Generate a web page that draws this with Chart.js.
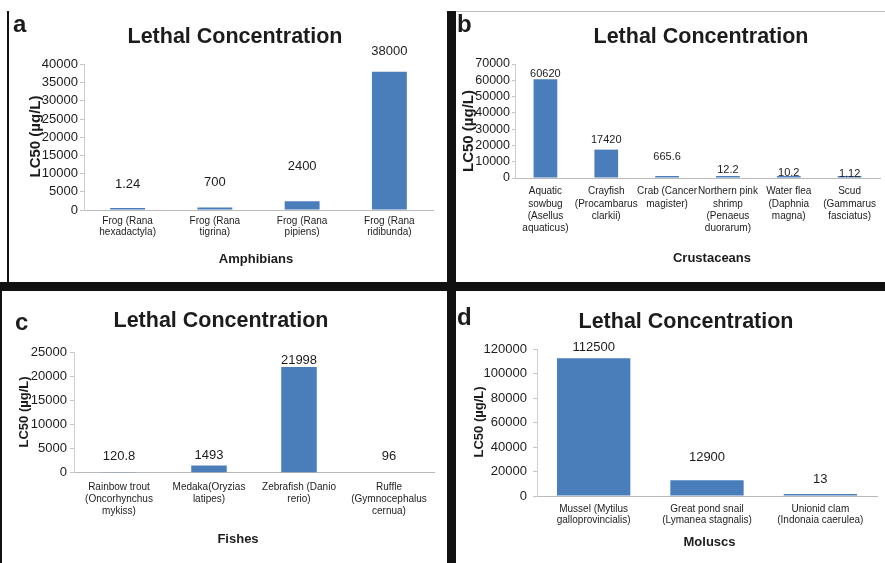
<!DOCTYPE html>
<html>
<head>
<meta charset="utf-8">
<script src="https://cdn.jsdelivr.net/npm/chart.js@4.4.1/dist/chart.umd.min.js"></script>
<style>
  html, body { margin: 0; padding: 0; background: #fff; }
  #wrap { position: relative; width: 885px; height: 563px; background: #fff; overflow: hidden; }
  #wrap canvas { position: absolute; left: 0; top: 0; }
  .bar { position: absolute; background: #111; }
</style>
</head>
<body>
<div id="wrap">
  <div class="bar" style="left:0;top:282px;width:885px;height:9px;"></div>
  <div class="bar" style="left:447px;top:11px;width:9px;height:552px;"></div>
  <div class="bar" style="left:7px;top:11px;width:2px;height:272px;"></div>
  <div class="bar" style="left:0;top:291px;width:2px;height:272px;"></div>
  <div class="bar" style="left:456px;top:11px;width:429px;height:1px;background:#bdbdbd;"></div>
  <canvas id="ca" width="885" height="563"></canvas>
  <canvas id="cb" width="885" height="563"></canvas>
  <canvas id="cc" width="885" height="563"></canvas>
  <canvas id="cd" width="885" height="563"></canvas>
</div>
<script>
// ---------- DATA ----------
const chartTitle = "Lethal Concentration";
const yAxisTitle = "LC50 (\u00b5g/L)";

const categoriesA = [["Frog (Rana", "hexadactyla)"], ["Frog (Rana", "tigrina)"], ["Frog (Rana", "pipiens)"], ["Frog (Rana", "ridibunda)"]];
const valuesA = [1.24, 700, 2400, 38000];
const ticksA = [0, 5000, 10000, 15000, 20000, 25000, 30000, 35000, 40000];

const categoriesB = [["Aquatic", "sowbug", "(Asellus", "aquaticus)"], ["Crayfish", "(Procambarus", "clarkii)"], ["Crab (Cancer", "magister)"], ["Northern pink", "shrimp", "(Penaeus", "duorarum)"], ["Water flea", "(Daphnia", "magna)"], ["Scud", "(Gammarus", "fasciatus)"]];
const valuesB = [60620, 17420, 665.6, 12.2, 10.2, 1.12];
const ticksB = [0, 10000, 20000, 30000, 40000, 50000, 60000, 70000];

const categoriesC = [["Rainbow trout", "(Oncorhynchus", "mykiss)"], ["Medaka(Oryzias", "latipes)"], ["Zebrafish (Danio", "rerio)"], ["Ruffle", "(Gymnocephalus", "cernua)"]];
const valuesC = [120.8, 1493, 21998, 96];
const ticksC = [0, 5000, 10000, 15000, 20000, 25000];

const categoriesD = [["Mussel (Mytilus", "galloprovincialis)"], ["Great pond snail", "(Lymanea stagnalis)"], ["Unionid clam", "(Indonaia caerulea)"]];
const valuesD = [112500, 12900, 13];
const ticksD = [0, 20000, 40000, 60000, 80000, 100000, 120000];

// ---------- STYLE / LAYOUT ----------
const FONT = '"Liberation Sans", Arial, Helvetica, sans-serif';
const BLUE = '#4a7ebb';
const INK = '#1c1c1c';
const W = 885, H = 563;

const panels = [
  { id: 'ca', cats: categoriesA, vals: valuesA, ticks: ticksA, letter: 'a', xTitle: 'Amphibians',
    area: { l: 84, r: 433, t: 64.5, b: 210 }, barPct: 0.40, minBar: 2,
    yFont: 13, yTl: 4, yPad: 2, xFont: 10, xLH: 11.7, xPad: 5, labelFont: 13,
    lift: [26, 25, 35, 20],
    pLetter: { x: 13, y: 32 }, pTitle: { x: 235, y: 43 }, pYTitle: { x: 36, y: 136.5, size: 15 }, pXTitle: { x: 256, y: 263, size: 13 } },
  { id: 'cb', cats: categoriesB, vals: valuesB, ticks: ticksB, letter: 'b', xTitle: 'Crustaceans',
    area: { l: 515, r: 880, t: 64, b: 178 }, barPct: 0.39, minBar: 2,
    yFont: 12.5, yTl: 3, yPad: 2, xFont: 10, xLH: 12.2, xPad: 7.6, labelFont: 11,
    lift: [5.3, 9.6, 19.6, 8, 5.3, 4],
    pLetter: { x: 457, y: 32 }, pTitle: { x: 701, y: 43 }, pYTitle: { x: 469, y: 131, size: 15 }, pXTitle: { x: 712, y: 262, size: 13 } },
  { id: 'cc', cats: categoriesC, vals: valuesC, ticks: ticksC, letter: 'c', xTitle: 'Fishes',
    area: { l: 74, r: 434, t: 352.5, b: 472.7 }, barPct: 0.395, minBar: 0,
    yFont: 13, yTl: 4, yPad: 3, xFont: 10, xLH: 12.2, xPad: 8, labelFont: 13,
    lift: [15.5, 10, 7, 15.5],
    pLetter: { x: 15, y: 330 }, pTitle: { x: 221, y: 327 }, pYTitle: { x: 24, y: 412, size: 13 }, pXTitle: { x: 238, y: 543, size: 13 } },
  { id: 'cd', cats: categoriesD, vals: valuesD, ticks: ticksD, letter: 'd', xTitle: 'Moluscs',
    area: { l: 537, r: 877, t: 349, b: 496 }, barPct: 0.647, minBar: 2,
    yFont: 13, yTl: 4, yPad: 6, xFont: 10, xLH: 11.4, xPad: 7.6, labelFont: 13,
    lift: [10.7, 22.7, 17],
    pLetter: { x: 457, y: 325 }, pTitle: { x: 686, y: 328 }, pYTitle: { x: 479, y: 422, size: 13 }, pXTitle: { x: 709.5, y: 546, size: 13 } }
];

function makeDecor(p) {
  return {
    id: 'decor_' + p.id,
    afterDraw(chart) {
      const ctx = chart.ctx;
      ctx.save();
      ctx.fillStyle = INK;
      // panel letter
      ctx.font = 'bold 24px ' + FONT;
      ctx.textAlign = 'left';
      ctx.textBaseline = 'alphabetic';
      ctx.fillText(p.letter, p.pLetter.x, p.pLetter.y);
      // chart title
      ctx.font = 'bold 21.5px ' + FONT;
      ctx.textAlign = 'center';
      ctx.fillText(chartTitle, p.pTitle.x, p.pTitle.y);
      // x axis title
      ctx.font = 'bold ' + p.pXTitle.size + 'px ' + FONT;
      ctx.fillText(p.xTitle, p.pXTitle.x, p.pXTitle.y);
      // data labels
      const meta = chart.getDatasetMeta(0);
      const ys = chart.scales.y;
      ctx.font = p.labelFont + 'px ' + FONT;
      ctx.textBaseline = 'middle';
      p.vals.forEach((v, i) => {
        const el = meta.data[i];
        ctx.fillText(String(v), el.x, ys.getPixelForValue(v) - p.lift[i]);
      });
      // y axis title
      ctx.translate(p.pYTitle.x, p.pYTitle.y);
      ctx.rotate(-Math.PI / 2);
      ctx.font = 'bold ' + p.pYTitle.size + 'px ' + FONT;
      ctx.textAlign = 'center';
      ctx.textBaseline = 'middle';
      ctx.fillText(yAxisTitle, 0, 0);
      ctx.restore();
    }
  };
}

panels.forEach(p => {
  new Chart(document.getElementById(p.id), {
    type: 'bar',
    data: {
      labels: p.cats,
      datasets: [{
        data: p.vals,
        backgroundColor: BLUE,
        borderWidth: 0,
        categoryPercentage: 1,
        barPercentage: p.barPct,
        minBarLength: p.minBar
      }]
    },
    options: {
      responsive: false,
      animation: false,
      events: [],
      layout: { autoPadding: false, padding: { left: 0, top: p.area.t, right: W - p.area.r, bottom: 0 } },
      plugins: { legend: { display: false }, tooltip: { enabled: false }, title: { display: false } },
      scales: {
        x: {
          type: 'category',
          offset: true,
          grid: { display: false, drawTicks: false },
          border: { display: true, color: '#b9b9b9', width: 1 },
          ticks: {
            autoSkip: false, maxRotation: 0, minRotation: 0,
            padding: p.xPad, color: INK,
            font: { family: FONT, size: p.xFont, lineHeight: p.xLH + 'px' }
          },
          afterFit: s => { s.height = H - p.area.b; }
        },
        y: {
          min: 0,
          max: p.ticks[p.ticks.length - 1],
          grid: { display: true, drawOnChartArea: false, drawTicks: true, tickLength: p.yTl, color: '#c4c4c4' },
          border: { display: true, color: '#cfcfcf', width: 1 },
          afterBuildTicks: s => { s.ticks = p.ticks.map(v => ({ value: v })); },
          ticks: {
            autoSkip: false,
            padding: p.yPad, color: INK,
            font: { family: FONT, size: p.yFont },
            callback: v => String(v)
          },
          afterFit: s => { s.width = p.area.l; }
        }
      }
    },
    plugins: [makeDecor(p)]
  });
});
</script>
</body>
</html>
